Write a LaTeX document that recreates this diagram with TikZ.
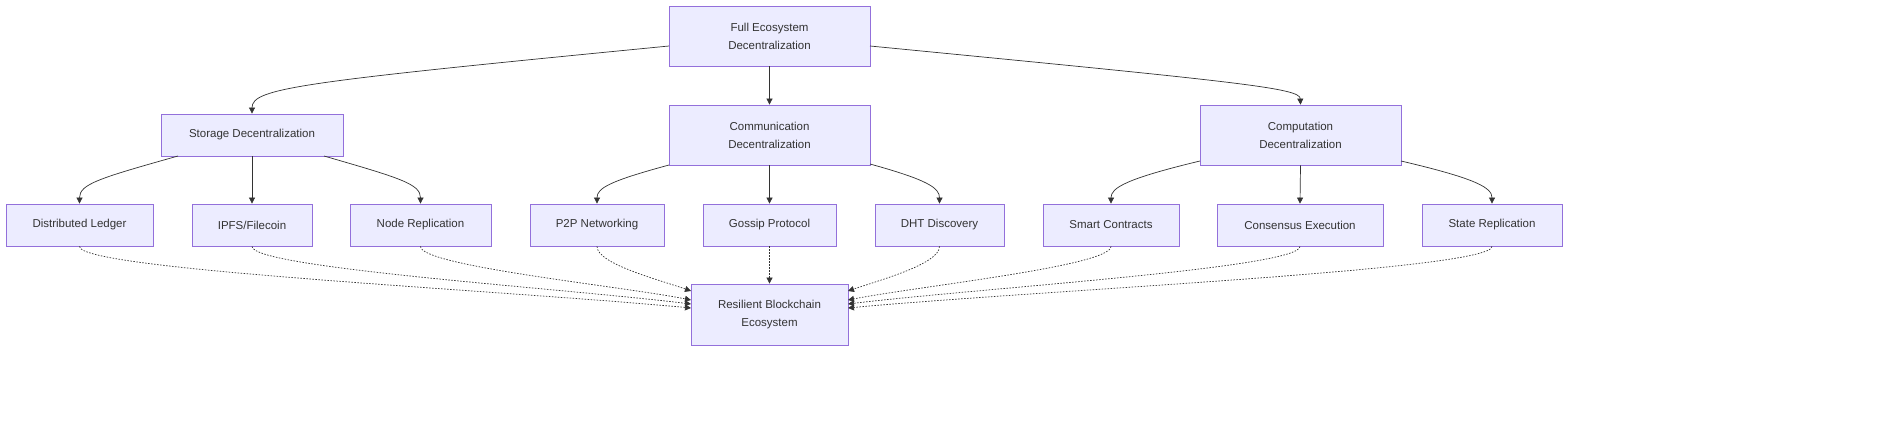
\documentclass[tikz,border=0pt]{standalone}
\usepackage{fontspec}
\setmainfont{Liberation Sans}
\usetikzlibrary{arrows.meta}
\definecolor{nfill}{HTML}{ECECFF}
\definecolor{nline}{HTML}{9370DB}
\definecolor{eline}{HTML}{333333}
\begin{document}
\begin{tikzpicture}[x=1pt,y=-1pt,
  box/.style={draw=nline,fill=nfill,line width=0.8pt,align=center,inner sep=0pt,
    font=\fontsize{11.5}{18}\selectfont,text=eline},
  e/.style={draw=eline,line width=0.7pt,-{Triangle[length=6pt,width=6pt]}},
  d/.style={e,dash pattern=on 1.5pt off 1.5pt}]
\path[fill=white] (0,0) rectangle (1904,426);
\useasboundingbox (0,0) rectangle (1904,426);
\clip (0,0) rectangle (1904,426);
\node[box,minimum width=201,minimum height=60] (top) at (769.5,36) {Full Ecosystem\\Decentralization};
\node[box,minimum width=182,minimum height=42] (stor) at (252,135) {Storage Decentralization};
\node[box,minimum width=201,minimum height=60] (comm) at (769.5,135) {Communication\\Decentralization};
\node[box,minimum width=201,minimum height=60] (comp) at (1300.5,135) {Computation\\Decentralization};
\foreach \n/\x/\w/\t in {dl/79.5/147/Distributed Ledger, ipfs/252/120/{IPFS/Filecoin}, nr/420.5/141/Node Replication,
  p2p/597/134/P2P Networking, gos/769.5/133/Gossip Protocol, dht/939.5/129/DHT Discovery,
  sc/1111/136/Smart Contracts, ce/1300/166/Consensus Execution, sr/1492/140/State Replication}
  \node[box,minimum width=\w,minimum height=42] (\n) at (\x,225) {\t};
\node[box,minimum width=157,minimum height=61] (res) at (769.5,314.5) {Resilient Blockchain\\Ecosystem};
% top edges
\draw[e] (669,46) .. controls (300,82) and (252,88) .. (stor.north);
\draw[e] (top.south) -- (comm.north);
\draw[e] (870,46) .. controls (1240,82) and (1300,88) .. (comp.north);
% second level
\draw[e] (178,156) .. controls (100,178) and (79.5,184) .. (dl.north);
\draw[e] (stor.south) -- (ipfs.north);
\draw[e] (324,156) .. controls (400,178) and (420.5,184) .. (nr.north);
\draw[e] (669,165) .. controls (610,181) and (597,188) .. (p2p.north);
\draw[e] (comm.south) -- (gos.north);
\draw[e] (870,164) .. controls (928,180) and (939.5,188) .. (dht.north);
\draw[e] (1200,161) .. controls (1125,179) and (1111,188) .. (sc.north);
\draw[e] (comp.south) -- (ce.north);
\draw[e] (1401,161) .. controls (1478,179) and (1492,188) .. (sr.north);
% dotted
\draw[d] (dl.south) .. controls (79.5,270) and (500,290) .. (691,308);
\draw[d] (ipfs.south) .. controls (252,268) and (560,288) .. (691,304);
\draw[d] (nr.south) .. controls (420.5,266) and (620,286) .. (691,300);
\draw[d] (p2p.south) .. controls (597,264) and (660,280) .. (691,291);
\draw[d] (gos.south) -- (res.north);
\draw[d] (dht.south) .. controls (939.5,264) and (880,280) .. (848,291);
\draw[d] (sc.south) .. controls (1111,266) and (920,286) .. (848,300);
\draw[d] (ce.south) .. controls (1300,268) and (980,288) .. (848,304);
\draw[d] (sr.south) .. controls (1492,270) and (1040,290) .. (848,308);
\end{tikzpicture}
\end{document}
